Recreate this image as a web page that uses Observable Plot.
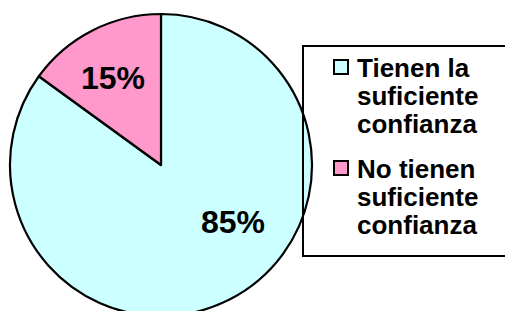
<!DOCTYPE html>
<html>
<head>
<meta charset="utf-8">
<script src="https://cdn.jsdelivr.net/npm/d3@7"></script>
<script src="https://cdn.jsdelivr.net/npm/@observablehq/plot@0.6"></script>
<style>
  html, body { margin: 0; padding: 0; background: #fff; overflow: hidden; }
  #wrap { position: relative; width: 505px; height: 311px; overflow: hidden; background: #fff; }
  #wrap svg { position: absolute; left: 0; top: 0; }
  .legend { position: absolute; left: 302px; top: 45px; width: 230px; height: 212px; box-sizing: border-box; border: 2px solid #000; background: transparent; }
  .sw { position: absolute; width: 16px; height: 16px; box-sizing: border-box; border: 2px solid #000; }
  .lt { position: absolute; left: 357px; font-family: "Liberation Sans", Arial, sans-serif; font-weight: bold; font-size: 26px; line-height: 28px; color: #000; white-space: nowrap; }
</style>
</head>
<body>
<div id="wrap"></div>
<script>
const categories = ["Tienen la suficiente confianza", "No tienen suficiente confianza"];
const legendLines = [["Tienen la", "suficiente", "confianza"], ["No tienen", "suficiente", "confianza"]];
const values = [85, 15];
const labels = ["85%", "15%"];
const colors = ["#CCFFFF", "#FF99CC"];

// geometry (pixels)
const W = 505, H = 311, cx = 161, cy = 165, R = 151;

const arcs = d3.pie().sort(null).value(d => d)(values);
const labelOffsets = [[29, -26], [-6, -3]];
const labelData = arcs.map((a, i) => {
  const mid = (a.startAngle + a.endAngle) / 2;
  const rr = 0.62;
  return { x: Math.sin(mid) * rr, y: Math.cos(mid) * rr, label: labels[i], dx: labelOffsets[i][0], dy: labelOffsets[i][1] };
});

function pieMark(index, scales) {
  const x0 = scales.x(0), y0 = scales.y(0);
  const rad = scales.x(1) - scales.x(0);
  const arc = d3.arc().innerRadius(0).outerRadius(rad);
  const g = d3.create("svg:g").attr("transform", `translate(${x0},${y0})`);
  g.selectAll("path").data(arcs).join("path")
    .attr("d", arc)
    .attr("fill", (d, i) => colors[i])
    .attr("stroke", "#000")
    .attr("stroke-width", 2.2)
    .attr("stroke-linejoin", "round");
  return g.node();
}

const chart = Plot.plot({
  width: W, height: H,
  marginTop: 0, marginBottom: 0, marginLeft: 0, marginRight: 0,
  x: { domain: [-cx / R, (W - cx) / R], axis: null },
  y: { domain: [-(H - cy) / R, cy / R], axis: null },
  style: { background: "transparent" },
  marks: [
    pieMark,
    ...labelData.map(d => Plot.text([d], {
      x: "x", y: "y", text: "label",
      dx: d.dx, dy: d.dy,
      fontSize: 32, fontWeight: "bold",
      fontFamily: "Liberation Sans, Arial, sans-serif",
      fill: "#000"
    }))
  ]
});

const wrap = document.getElementById("wrap");
wrap.appendChild(chart);

const legend = document.createElement("div");
legend.className = "legend";
wrap.appendChild(legend);

const swTops = [59, 160];
const textTops = [54, 155];
categories.forEach((c, i) => {
  const sw = document.createElement("div");
  sw.className = "sw";
  sw.style.left = "333px";
  sw.style.top = swTops[i] + "px";
  sw.style.background = colors[i];
  wrap.appendChild(sw);
  const t = document.createElement("div");
  t.className = "lt";
  t.style.top = textTops[i] + "px";
  t.innerHTML = legendLines[i].join("<br>");
  t.title = c;
  wrap.appendChild(t);
});
</script>
</body>
</html>
